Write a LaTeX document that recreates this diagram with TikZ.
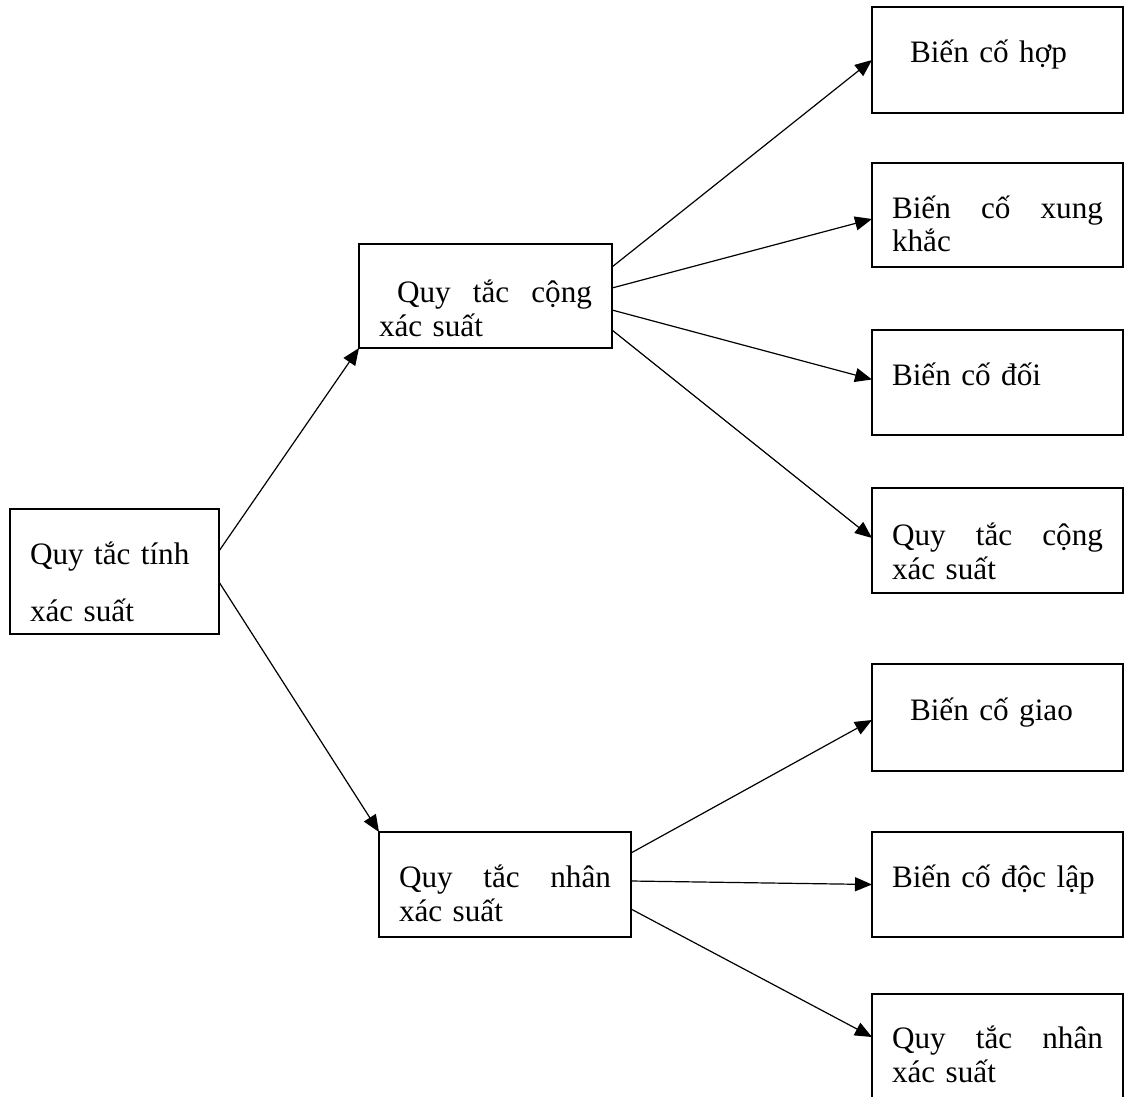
\documentclass[tikz,border=0pt]{standalone}
\usepackage{fontspec}
\setmainfont{Liberation Serif}
\usepackage{tikz}
\usetikzlibrary{arrows.meta}

% three words spread over a full line
\newcommand{\fullline}[4][105.5pt]{\makebox[#1][l]{#2\hfill #3\hfill #4}}

\tikzset{
	box/.style={draw, line width=0.8pt, anchor=north west, outer sep=0pt,
		inner xsep=10pt, inner ysep=0pt, align=left,
		text height=27.5pt, text depth=25pt,
		font=\fontsize{15.6pt}{17pt}\selectfont},
	rightbox/.style={box, text width=105.5pt}
}

\begin{document}
\begin{tikzpicture}[x=0.5pt,y=-0.5pt]
		\useasboundingbox (0,0) rectangle (1124,1097);
		\node[box, text width=84.5pt, text depth=35pt, font=\fontsize{15.6pt}{28.5pt}\selectfont] (tinh) at (10,509) {Quy tắc tính\\xác suất};
		\node[box, text width=106.5pt, text height=29pt, text depth=23pt] (cong) at (359,244) {\hspace*{9pt}\fullline[97.5pt]{Quy}{tắc}{cộng}\\xác suất};
		\node[box, text width=106pt] (nhan) at (379,832) {\fullline[106pt]{Quy}{tắc}{nhân}\\xác suất};
		%
		\node[rightbox, text height=28pt, text depth=25pt] (hop) at (872,7) {\hspace*{9pt}Biến cố hợp};
		\node[rightbox, text depth=24.5pt] (xung) at (872,163) {\fullline{Biến}{cố}{xung}\\khắc};
		\node[rightbox] (doi) at (872,330) {Biến cố đối};
		\node[rightbox, text height=28.5pt, text depth=24pt] (congR) at (872,488) {\fullline{Quy}{tắc}{cộng}\\xác suất};
		\node[rightbox, text height=28pt, text depth=25.5pt] (giao) at (872,664) {\hspace*{9pt}Biến cố giao};
		\node[rightbox] (doclap) at (872,832) {Biến cố độc lập};
		\node[rightbox, text height=27pt, text depth=25.5pt] (nhanR) at (872,994) {\fullline{Quy}{tắc}{nhân}\\xác suất};
		%
		\path[->, line width=0.6pt, >={Triangle[length=8.5pt,width=7pt]}]
		% from the root
		([yshift=10.25pt]tinh.east) edge (cong.south west)
		([yshift=-5.25pt]tinh.east) edge (nhan.north west)
		% addition rule
		([yshift=14.5pt]cong.east) edge (hop.west)
		([yshift=4pt]cong.east) edge ([yshift=-2pt]xung.west)
		([yshift=-7pt]cong.east) edge ([yshift=1.5pt]doi.west)
		([yshift=-17pt]cong.east) edge ([yshift=1.25pt]congR.west)
		% multiplication rule
		([yshift=15.75pt]nhan.east) edge ([yshift=-1.25pt]giao.west)
		([yshift=1.75pt]nhan.east) edge (doclap.west)
		([yshift=-12.25pt]nhan.east) edge ([yshift=4.75pt]nhanR.west);
\end{tikzpicture}
\end{document}
